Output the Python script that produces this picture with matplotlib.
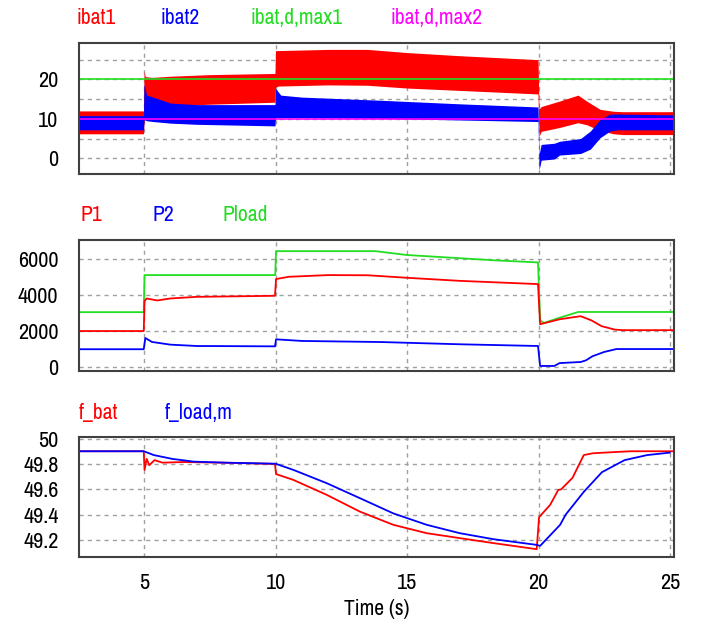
import matplotlib
matplotlib.use('Agg')
import matplotlib.pyplot as plt

# narrow sans like the PSIM plot
plt.rcParams['font.family'] = ['Archivo Narrow', 'Roboto Condensed', 'DejaVu Sans']

# ---- panel 1 : battery currents (ripple bands, upper / lower envelope) ----
t_ibat1 = [2.54, 4.98, 5.0, 5.05, 5.3, 6.0, 7.5, 9.98, 10.0, 10.1, 12.0, 13.5, 15.0, 17.0, 19.98,
           20.02, 20.1, 20.8, 21.5, 21.83, 22.34, 22.85, 23.2, 25.15]
ibat1_hi = [12.0, 12.0, 22.0, 20.7, 20.5, 20.8, 21.2, 21.5, 27.3, 27.3, 27.6, 27.6, 26.8, 26.0, 25.0,
            12.5, 13.1, 14.5, 16.0, 14.5, 12.4, 11.9, 11.8, 11.8]
ibat1_lo = [6.2, 6.2, 9.0, 11.0, 12.5, 13.3, 13.7, 14.2, 18.0, 18.3, 18.6, 18.5, 17.8, 17.2, 16.3,
            5.5, 6.8, 7.8, 9.0, 8.5, 7.0, 6.2, 6.0, 6.0]

t_ibat2 = [2.54, 4.98, 5.0, 5.1, 5.35, 6.0, 7.0, 9.98, 10.0, 10.2, 11.0, 14.0, 17.0, 19.98,
           20.02, 20.1, 20.6, 20.8, 21.6, 21.97, 22.34, 22.72, 23.0, 25.15]
ibat2_hi = [10.8, 10.8, 18.8, 16.0, 15.5, 14.0, 13.6, 13.6, 17.7, 16.0, 15.5, 14.7, 13.8, 13.0,
            1.0, 3.5, 3.8, 4.3, 5.0, 6.9, 9.8, 11.2, 11.2, 11.0]
ibat2_lo = [7.2, 7.2, 9.8, 9.5, 9.3, 8.9, 8.6, 8.2, 10.3, 10.3, 10.3, 10.1, 9.7, 9.3,
            -3.0, -0.5, -0.2, 0.8, 1.2, 2.3, 5.2, 6.9, 7.2, 7.2]

t_lim = [2.54, 25.15]
ibat_d_max1 = [20, 20]
ibat_d_max2 = [10, 10]

# ---- panel 2 : powers ----
t_p1 = [2.54, 4.99, 5.02, 5.1, 5.5, 6.0, 7.0, 9.98, 10.02, 10.5, 12.0, 13.5, 15.0, 17.0, 19.98,
        20.06, 20.82, 21.6, 22.0, 22.4, 22.9, 23.2, 25.15]
p1 = [2000, 2000, 3660, 3810, 3700, 3810, 3900, 3960, 4890, 5015, 5110, 5100, 4960, 4790, 4610,
      2380, 2660, 2825, 2600, 2270, 2080, 2050, 2050]

t_p2 = [2.54, 4.99, 5.05, 5.3, 6.0, 7.0, 9.98, 10.02, 11.0, 14.0, 17.0, 19.98,
        20.06, 20.6, 20.8, 21.6, 21.8, 22.05, 22.5, 22.96, 25.15]
p2 = [990, 990, 1615, 1395, 1245, 1170, 1150, 1540, 1450, 1390, 1265, 1170,
      60, 60, 220, 280, 370, 600, 840, 1000, 1000]

t_pload = [2.54, 4.99, 5.02, 9.99, 10.02, 13.8, 15.0, 16.7, 18.4, 19.98, 20.06, 20.2, 20.82, 21.51, 25.15]
pload = [3050, 3050, 5110, 5110, 6440, 6440, 6225, 6075, 5925, 5815, 2600, 2450, 2750, 3060, 3060]

# ---- panel 3 : frequencies ----
t_fbat = [2.54, 4.99, 5.02, 5.1, 5.2, 5.4, 5.7, 6.5, 8.0, 9.98, 10.02, 10.68, 11.95, 13.21, 14.48,
          15.75, 17.01, 18.28, 19.93, 20.02, 20.44, 20.75, 20.86, 21.29, 21.72, 22.06, 22.75, 23.5, 25.15]
f_bat = [49.9, 49.9, 49.753, 49.84, 49.79, 49.83, 49.81, 49.815, 49.81, 49.80, 49.72, 49.674, 49.556,
         49.424, 49.32, 49.254, 49.215, 49.176, 49.128, 49.38, 49.477, 49.595, 49.6, 49.69, 49.87,
         49.884, 49.892, 49.9, 49.9]

t_fload = [2.54, 4.99, 5.37, 6.07, 6.9, 8.1, 10.0, 10.68, 11.95, 13.21, 14.48, 15.75, 17.01, 18.28,
           19.93, 20.06, 20.82, 21.03, 21.72, 22.41, 23.27, 24.13, 24.99]
f_load_m = [49.9, 49.9, 49.87, 49.84, 49.818, 49.81, 49.802, 49.753, 49.648, 49.53, 49.41, 49.32,
            49.254, 49.207, 49.162, 49.154, 49.32, 49.40, 49.58, 49.735, 49.83, 49.87, 49.889]

RED, BLUE, GREEN, MAG = '#ff0000', '#0000ff', '#22dd22', '#ff00ff'

fig = plt.figure(figsize=(7.09, 6.24), dpi=100)
W, H = 709.0, 624.0


def make_ax(left, top, right, bottom):
    return fig.add_axes([left / W, 1 - bottom / H, (right - left) / W, (bottom - top) / H])


def style(ax, xlabels=False):
    ax.set_xlim(t_lim)
    ax.set_xticks([5, 10, 15, 20, 25])
    if not xlabels:
        ax.set_xticklabels([])
    ax.grid(True, color='#a0a0a0', linestyle=(0, (3, 3)), linewidth=1.0)
    ax.set_axisbelow(True)
    ax.tick_params(length=0, labelsize=16, pad=15)
    ax.tick_params(axis='x', pad=12)
    for s in ax.spines.values():
        s.set_color('#404040')
        s.set_linewidth(1.5)


ax1 = make_ax(79.3, 42.7, 674, 174)
ax1.fill_between(t_ibat1, ibat1_lo, ibat1_hi, color=RED, lw=0)
ax1.fill_between(t_ibat2, ibat2_lo, ibat2_hi, color=BLUE, lw=0)
ax1.plot(t_lim, ibat_d_max1, color=GREEN, lw=1.2)
ax1.plot(t_lim, ibat_d_max2, color=MAG, lw=1.2)
ax1.set_ylim(-4, 29.3)
ax1.set_yticks([0, 5, 10, 15, 20, 25])
ax1.set_yticklabels(['0', '', '10', '', '20', ''])
style(ax1)

ax2 = make_ax(79.3, 240, 674, 371)
ax2.plot(t_pload, pload, color=GREEN, lw=1.3)
ax2.plot(t_p1, p1, color=RED, lw=1.3)
ax2.plot(t_p2, p2, color=BLUE, lw=1.3)
ax2.set_ylim(-220, 7060)
ax2.set_yticks([0, 2000, 4000, 6000])
style(ax2)

ax3 = make_ax(79.3, 437.3, 674, 556.8)
ax3.plot(t_fbat, f_bat, color=RED, lw=1.3)
ax3.plot(t_fload, f_load_m, color=BLUE, lw=1.3)
ax3.set_ylim(49.068, 50.01)
ax3.set_yticks([49.2, 49.4, 49.6, 49.8, 50.0])
ax3.set_yticklabels(['49.2', '49.4', '49.6', '49.8', '50'])
style(ax3, xlabels=True)
ax3.set_xlabel('Time (s)', fontsize=15.5, labelpad=4)

# channel names above each panel
labels = [
    ('ibat1', RED, 77, 18), ('ibat2', BLUE, 161, 18), ('ibat,d,max1', GREEN, 251, 18),
    ('ibat,d,max2', MAG, 390, 18),
    ('P1', RED, 80, 215), ('P2', BLUE, 152, 215), ('Pload', GREEN, 222, 215),
    ('f_bat', RED, 79, 413), ('f_load,m', BLUE, 165, 413),
]
for txt, c, x, y in labels:
    fig.text(x / W, 1 - y / H, txt, color=c, fontsize=15.5, ha='left', va='center')

fig.savefig('out.png', dpi=100)
